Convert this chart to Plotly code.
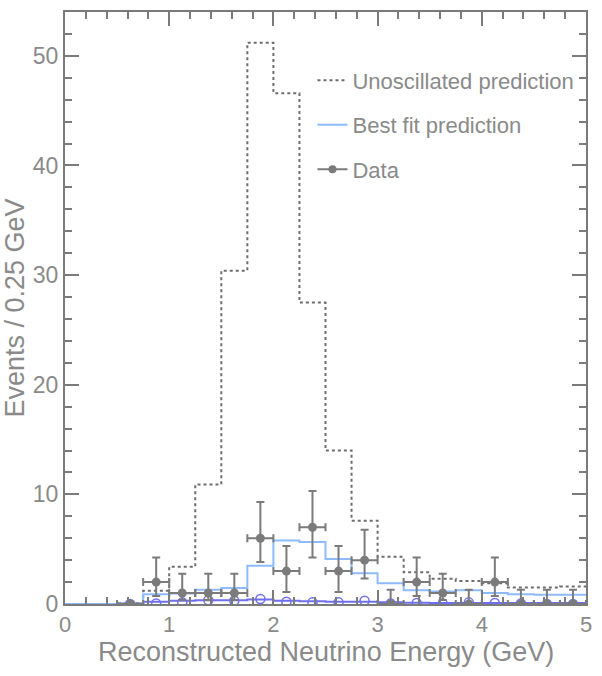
import plotly.graph_objects as go

# Bin lower edges (0.25 GeV bins)
bin_edges = [0.0, 0.25, 0.5, 0.75, 1.0, 1.25, 1.5, 1.75, 2.0, 2.25, 2.5, 2.75,
             3.0, 3.25, 3.5, 3.75, 4.0, 4.25, 4.5, 4.75, 5.0]

unosc = [0, 0, 0.1, 1.2, 3.4, 10.9, 30.4, 51.2, 46.6, 27.5, 14.0, 7.6,
         4.3, 2.9, 2.3, 2.1, 1.9, 1.5, 1.5, 1.6]
bestfit = [0, 0, 0.05, 0.9, 0.95, 1.3, 1.45, 3.5, 5.8, 5.65, 4.1, 2.8,
           1.9, 1.25, 1.15, 1.25, 1.0, 0.9, 0.85, 0.85]
bkg = [0, 0, 0.05, 0.2, 0.3, 0.35, 0.35, 0.4, 0.3, 0.25, 0.2, 0.2,
       0.15, 0.12, 0.1, 0.1, 0.1, 0.08, 0.08, 0.08]

data_x = [0.625, 0.875, 1.125, 1.375, 1.625, 1.875, 2.125, 2.375, 2.625, 2.875,
          3.125, 3.375, 3.625, 3.875, 4.125, 4.375, 4.625, 4.875]
data_y = [0, 2, 1, 1, 1, 6, 3, 7, 3, 4, 0, 2, 1, 0, 2, 0, 0, 0]
data_lo = [0, 0.74, 0.37, 0.37, 0.37, 3.82, 1.10, 4.25, 1.10, 2.33, 0, 0.74, 0.37, 0, 0.74, 0, 0, 0]
data_hi = [0, 4.25, 2.75, 2.75, 2.75, 9.30, 5.30, 10.30, 5.30, 6.78, 1.29, 4.25, 2.75, 1.29, 4.25, 1.29, 1.29, 1.29]

ws_y = [0, 0.05, 0.15, 0.35, 0.3, 0.45, 0.2, 0.15, 0.15, 0.3, 0.05, 0.1, 0.05, 0.15, 0.1, 0.05, 0, 0]

x_title = "Reconstructed Neutrino Energy (GeV)"
y_title = "Events / 0.25 GeV"

GRAY = "#7b7b7b"
TXT = "#8a8a8a"
LBLUE = "#8cbcff"
DBLUE = "#6f6ff2"
FONT = "Liberation Sans, Arial, sans-serif"


def step(vals):
    return bin_edges, list(vals) + [vals[-1]]


fig = go.Figure()

x, y = step(bkg)
fig.add_trace(go.Scatter(x=x, y=y, mode="lines", line=dict(shape="hv", color=DBLUE, width=2),
                         showlegend=False))

x, y = step(unosc)
fig.add_trace(go.Scatter(x=x, y=y, mode="lines", name="Unoscillated prediction",
                         line=dict(shape="hv", color="#6e6e6e", width=2, dash="3px,3px"),
                         legendgroup="a"))
x, y = step(bestfit)
fig.add_trace(go.Scatter(x=x, y=y, mode="lines", name="Best fit prediction",
                         line=dict(shape="hv", color=LBLUE, width=2), legendgroup="b"))

fig.add_trace(go.Scatter(x=data_x, y=ws_y, mode="markers", showlegend=False,
                         marker=dict(symbol="circle-open", size=9, color=DBLUE, line=dict(width=1.5))))

err_plus = [h - v for h, v in zip(data_hi, data_y)]
err_minus = [v - l for v, l in zip(data_y, data_lo)]
fig.add_trace(go.Scatter(x=data_x, y=data_y, mode="markers", showlegend=False,
                         marker=dict(symbol="circle", size=9, color=GRAY),
                         error_y=dict(type="data", symmetric=False, array=err_plus, arrayminus=err_minus,
                                      color=GRAY, thickness=2, width=4),
                         error_x=dict(type="constant", value=0.125, color=GRAY, thickness=2, width=4)))
# legend entry for data
fig.add_trace(go.Scatter(x=[None], y=[None], mode="lines+markers", name="Data", legendgroup="c",
                         line=dict(color=GRAY, width=2), marker=dict(symbol="circle", size=8, color=GRAY)))

fig.add_annotation(text=x_title, xref="paper", yref="paper", x=0.5, y=-0.081,
                   xanchor="center", yanchor="middle", showarrow=False,
                   font=dict(size=27, color=TXT, family=FONT))

fig.update_layout(
    width=602, height=676,
    margin=dict(l=65, r=14, t=10, b=72),
    paper_bgcolor="white", plot_bgcolor="white",
    font=dict(family=FONT, color=TXT, size=22),
    legend=dict(x=0.475, y=0.92, xanchor="left", yanchor="top", bgcolor="rgba(0,0,0,0)",
                font=dict(size=22, color=TXT), tracegroupgap=13, traceorder="grouped"),
    xaxis=dict(range=[0, 5], dtick=1, ticks="inside", ticklen=14, tickwidth=1.5, tickcolor=GRAY,
               showline=True, linecolor=GRAY, linewidth=2, mirror="ticks", showgrid=False, zeroline=False,
               minor=dict(dtick=0.2, ticks="inside", ticklen=7, tickwidth=1.5, tickcolor=GRAY, showgrid=False),
               tickfont=dict(size=22, color=TXT)),
    yaxis=dict(range=[0, 54], dtick=10, ticks="inside", ticklen=14, tickwidth=1.5, tickcolor=GRAY,
               showline=True, linecolor=GRAY, linewidth=2, mirror="ticks", showgrid=False, zeroline=False,
               minor=dict(dtick=2, ticks="inside", ticklen=7, tickwidth=1.5, tickcolor=GRAY, showgrid=False),
               title=dict(text=y_title, font=dict(size=27, color=TXT), standoff=0),
               tickfont=dict(size=23, color=TXT)),
)

fig.write_html("out.html")
